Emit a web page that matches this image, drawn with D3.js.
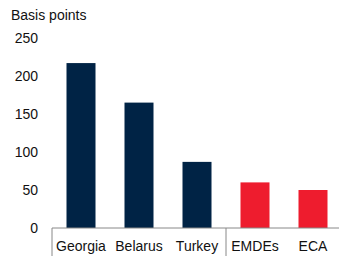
<!DOCTYPE html>
<html>
<head>
<meta charset="utf-8">
<script src="https://cdn.jsdelivr.net/npm/d3@7"></script>
<style>
  body { margin: 0; background: #fff; }
  text { font-family: "Liberation Sans", Arial, sans-serif; fill: #111; }
</style>
</head>
<body>
<div id="chart"></div>
<script>
const categories = ['Georgia', 'Belarus', 'Turkey', 'EMDEs', 'ECA'];
const values = [217, 165, 87, 60, 50];
const groups = ['country', 'country', 'country', 'aggregate', 'aggregate'];
const yTicks = [0, 50, 100, 150, 200, 250];

const width = 339;
const height = 256;
const margin = { top: 38, right: 0, bottom: 28, left: 52 };
const colors = { country: '#002345', aggregate: '#ee1c2e' };

const svg = d3
  .select('#chart')
  .append('svg')
  .attr('width', width)
  .attr('height', height);

const xScale = d3
  .scaleBand()
  .domain(categories)
  .range([margin.left, margin.left + 290])
  .paddingInner(0.5)
  .paddingOuter(0.25);

const yScale = d3
  .scaleLinear()
  .domain([0, 250])
  .range([height - margin.bottom, margin.top]);

// bars
svg
  .selectAll('rect.bar')
  .data(categories)
  .enter()
  .append('rect')
  .attr('class', 'bar')
  .attr('x', (d) => xScale(d))
  .attr('y', (d, i) => yScale(values[i]))
  .attr('width', xScale.bandwidth())
  .attr('height', (d, i) => yScale(0) - yScale(values[i]))
  .attr('fill', (d, i) => colors[groups[i]]);

// y axis labels (no line)
const yAxis = svg
  .append('g')
  .attr('transform', `translate(${margin.left - 14},0)`)
  .call(d3.axisLeft(yScale).tickValues(yTicks).tickSize(0).tickPadding(0));
yAxis.select('.domain').remove();
yAxis
  .selectAll('text')
  .style('font-size', '14px')
  .style('font-family', '"Liberation Sans", Arial, sans-serif')
  .attr('fill', '#111');

// x axis
const baseY = yScale(0);
svg
  .append('line')
  .attr('x1', margin.left)
  .attr('x2', width)
  .attr('y1', baseY)
  .attr('y2', baseY)
  .attr('stroke', '#888')
  .attr('stroke-width', 1);

svg
  .append('line')
  .attr('x1', margin.left)
  .attr('x2', margin.left)
  .attr('y1', baseY)
  .attr('y2', height)
  .attr('stroke', '#888');

// separator between countries and aggregates
const sepX = (xScale('Turkey') + xScale.bandwidth() + xScale('EMDEs')) / 2;
svg
  .append('line')
  .attr('x1', sepX)
  .attr('x2', sepX)
  .attr('y1', baseY)
  .attr('y2', height)
  .attr('stroke', '#888');

svg
  .selectAll('text.cat')
  .data(categories)
  .enter()
  .append('text')
  .attr('class', 'cat')
  .attr('x', (d) => xScale(d) + xScale.bandwidth() / 2)
  .attr('y', baseY + 23)
  .attr('text-anchor', 'middle')
  .style('font-size', '14px')
  .text((d) => d);

svg
  .append('text')
  .attr('x', 11)
  .attr('y', 20)
  .style('font-size', '14px')
  .text('Basis points');
</script>
</body>
</html>
